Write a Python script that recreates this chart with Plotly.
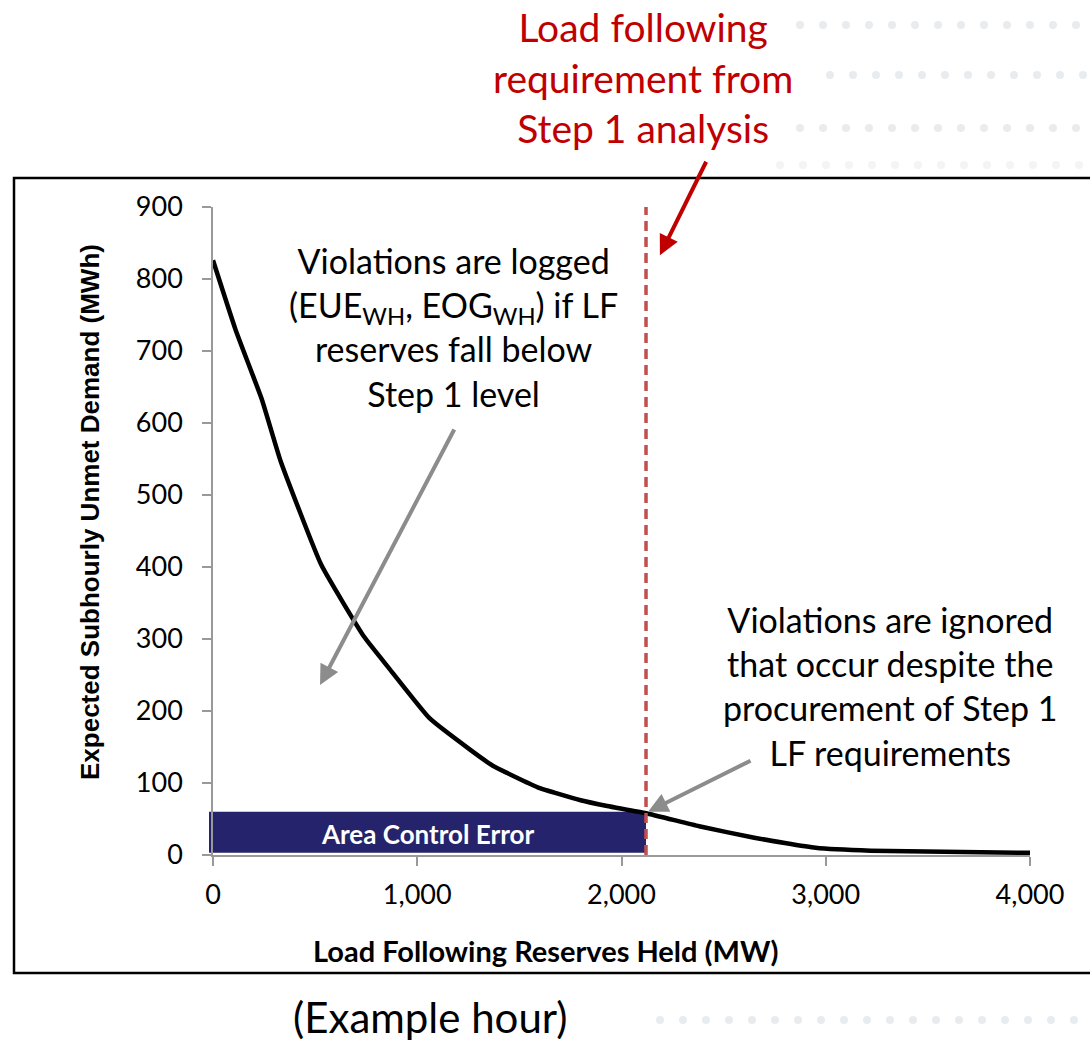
import plotly.graph_objects as go

# curve
reserves_mw = [0, 110, 240, 330, 530, 740, 860, 1060, 1260, 1370, 1590, 1800, 1930, 2120,
               2380, 2650, 2950, 3220, 4000]
unmet_mwh = [826, 730, 632, 548, 403, 303, 260, 190, 146, 124, 94, 76, 68, 58,
             40, 24, 10, 6, 3]

step1_req = 2120          # MW, load following requirement from step 1
ace_level = [3, 60]       # MWh band for area control error

x_ticks = [0, 1000, 2000, 3000, 4000]
x_tick_text = ['0', '1,000', '2,000', '3,000', '4,000']
y_ticks = list(range(0, 901, 100))

# body margin is removed in the page, so the figure fills the window
W, H = 1090, 1043
PL, PR, PT, PB = 213, 1030, 207, 855      # plot area in screen pixels
PW, PH = PR - PL, PB - PT


def px(x):
    return (x - PL) / PW


def py(y):
    return (PB - y) / PH


fig = go.Figure()

# decorative dot pattern behind the header / footer
shapes = []
for row_y, x_start in [(25, 800), (75, 830), (128, 800), (165, 780), (1020, 660)]:
    cx = x_start
    while cx < 1100:
        shapes.append(dict(type='circle', xref='paper', yref='paper',
                           x0=px(cx - 4), x1=px(cx + 4), y0=py(row_y + 4), y1=py(row_y - 4),
                           fillcolor='#e9ecef' if row_y != 165 else '#f2f4f5',
                           line=dict(width=0), layer='below'))
        cx += 23

# chart frame
shapes.append(dict(type='rect', xref='paper', yref='paper',
                   x0=px(14), x1=px(1110), y0=py(973), y1=py(178),
                   line=dict(color='black', width=2.5), fillcolor='white', layer='below'))

# area control error bar
shapes.append(dict(type='rect', xref='paper', yref='y',
                   x0=px(209), x1=step1_req / 4000, y0=ace_level[0], y1=ace_level[1],
                   fillcolor='#24236b', line=dict(width=0), layer='below'))

fig.update_layout(shapes=shapes)

fig.add_trace(go.Scatter(x=reserves_mw, y=unmet_mwh, mode='lines',
                         line=dict(color='black', width=4.5, shape='spline', smoothing=0.4),
                         showlegend=False, hoverinfo='skip'))

fig.add_trace(go.Scatter(x=[step1_req, step1_req], y=[0, 900], mode='lines',
                         line=dict(color='#c0504d', width=3.5, dash='10px,6px'),
                         showlegend=False, hoverinfo='skip'))

font_body = 'Lato'
ann = []
ann.append(dict(text='Area Control Error', x=(step1_req - 20) / 2, y=sum(ace_level) / 2 - 2,
                xref='x', yref='y', showarrow=False, xanchor='center',
                font=dict(family=font_body, size=26, color='white', weight='bold')))

ann.append(dict(text='Violations are logged<br>(EUE<sub>WH</sub>, EOG<sub>WH</sub>) if LF<br>reserves fall below<br>Step 1 level',
                x=px(453), y=py(238), xref='paper', yref='paper', yanchor='top', xanchor='center',
                showarrow=False, align='center',
                font=dict(family=font_body, size=34, color='black')))

ann.append(dict(text='Violations are ignored<br>that occur despite the<br>procurement of Step 1<br>LF requirements',
                x=px(890), y=py(597), xref='paper', yref='paper', yanchor='top', xanchor='center',
                showarrow=False, align='center',
                font=dict(family=font_body, size=34, color='black')))

ann.append(dict(text='Load following<br>requirement from<br>Step 1 analysis',
                x=px(643), y=py(78), xref='paper', yref='paper', yanchor='middle', xanchor='center',
                showarrow=False, align='center', borderpad=0,
                font=dict(family=font_body, size=39, color='#c00000')))

ann.append(dict(text='(Example hour)', x=px(430), y=py(1017), xref='paper', yref='paper',
                showarrow=False, xanchor='center', yanchor='middle', borderpad=0,
                font=dict(family=font_body, size=42, color='black')))

# axis titles, centred on the frame rather than the plot area
ann.append(dict(text='<b>Load Following Reserves Held (MW)</b>', x=px(545), y=py(950),
                xref='paper', yref='paper', showarrow=False, xanchor='center', yanchor='middle',
                font=dict(family=font_body, size=29, color='black')))
ann.append(dict(text='<b>Expected Subhourly Unmet Demand (MWh)</b>', x=px(90), y=py(512),
                xref='paper', yref='paper', showarrow=False, xanchor='center', yanchor='middle',
                textangle=-90,
                font=dict(family='Liberation Sans', size=26, color='black')))

# arrows
ann.append(dict(x=524, y=236, ax=1185, ay=593, xref='x', yref='y', axref='x', ayref='y',
                text='', showarrow=True, arrowhead=2, arrowsize=1, arrowwidth=4,
                arrowcolor='#8c8c8c'))
ann.append(dict(x=2130, y=60, ax=2639, ay=132, xref='x', yref='y', axref='x', ayref='y',
                text='', showarrow=True, arrowhead=2, arrowsize=1, arrowwidth=4,
                arrowcolor='#8c8c8c'))
ann.append(dict(x=2188, y=833, ax=47, ay=-95, xref='x', yref='y',
                text='', showarrow=True, arrowhead=2, arrowsize=1, arrowwidth=4,
                arrowcolor='#c00000'))

fig.update_layout(
    annotations=ann,
    width=W, height=H,
    margin=dict(l=PL, r=W - PR, t=PT, b=H - PB),
    paper_bgcolor='white', plot_bgcolor='white',
    xaxis=dict(range=[0, 4000], tickvals=x_ticks, ticktext=x_tick_text,
               showgrid=False, zeroline=False, showline=True, linecolor='#999999', linewidth=1.5,
               ticks='outside', ticklen=9, tickcolor='#999999', tickwidth=1.5,
               ticklabelstandoff=6,
               tickfont=dict(family=font_body, size=27, color='black')),
    yaxis=dict(range=[0, 900], tickvals=y_ticks,
               showgrid=False, zeroline=False, showline=True, linecolor='#999999', linewidth=1.5,
               ticks='outside', ticklen=9, tickcolor='#999999', tickwidth=1.5,
               ticklabelstandoff=14,
               tickfont=dict(family=font_body, size=27, color='black')),
)

fig.write_html("out.html", config={'displayModeBar': False},
               post_script="document.body.style.margin='0';")
